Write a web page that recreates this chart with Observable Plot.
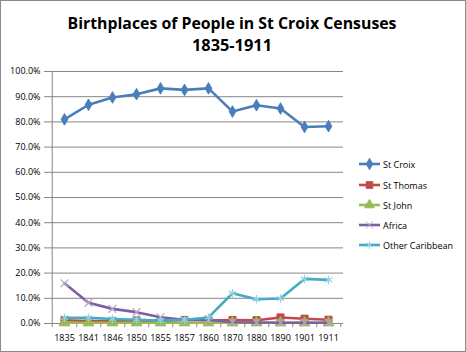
<!DOCTYPE html>
<html>
<head>
<meta charset="utf-8">
<script src="https://cdn.jsdelivr.net/npm/d3@7"></script>
<script src="https://cdn.jsdelivr.net/npm/@observablehq/plot@0.6"></script>
<style>
  html, body { margin: 0; padding: 0; background: #fff; }
  #wrap { position: relative; width: 466px; height: 352px; overflow: hidden; font-family: "Open Sans", sans-serif; }
  #border { position: absolute; left: 0; top: 0; width: 466px; height: 352px; box-sizing: border-box; border: 1px solid #8a8a8a; pointer-events: none; }
  #chart { position: absolute; left: 0; top: 0; }
  #title { position: absolute; left: 0; top: 0; }
  #legend { position: absolute; left: 358px; top: 0; font-size: 9px; color: #000; }
  .row { position: absolute; left: 0; height: 12px; display: flex; align-items: center; white-space: nowrap; }
  .row svg { margin-right: 2px; }
</style>
</head>
<body>
<div id="wrap">
  <div id="chart"></div>
  <svg id="title" width="466" height="60">
    <text x="232" y="28.5" text-anchor="middle" font-family="Open Sans" font-weight="bold" font-size="16" textLength="329" lengthAdjust="spacingAndGlyphs">Birthplaces of People in St Croix Censuses</text>
    <text x="232" y="50.5" text-anchor="middle" font-family="Open Sans" font-weight="bold" font-size="16" textLength="80" lengthAdjust="spacingAndGlyphs">1835-1911</text>
  </svg>
  <div id="legend"></div>
  <div id="border"></div>
</div>
<script>
const years = ["1835","1841","1846","1850","1855","1857","1860","1870","1880","1890","1901","1911"];
const seriesNames = ["St Croix","St Thomas","St John","Africa","Other Caribbean"];
const stCroix    = [81.0, 86.8, 89.7, 91.0, 93.3, 92.7, 93.3, 84.1, 86.6, 85.3, 78.0, 78.3];
const stThomas   = [1.3, 1.0, 1.0, 1.2, 0.9, 1.4, 1.2, 1.4, 1.3, 2.4, 1.9, 1.5];
const stJohn     = [0.3, 0.3, 0.3, 0.3, 0.3, 0.3, 0.3, 0.3, 0.3, 0.3, 0.3, 0.3];
const africa     = [16.0, 8.2, 5.8, 4.5, 2.5, 1.5, 1.5, 0.5, 0.4, 0.3, 0.3, 0.3];
const otherCarib = [2.3, 2.3, 1.8, 1.5, 1.2, 1.5, 2.4, 12.0, 9.6, 9.9, 17.7, 17.3];
const yTicks = [0,10,20,30,40,50,60,70,80,90,100];

const seriesValues = [stCroix, stThomas, stJohn, africa, otherCarib];
const colors  = ["#4A7EBB", "#BE4B48", "#98B954", "#7D60A0", "#46AAC5"];
const markerStroke = ["#4A7EBB", "#BE4B48", "#98B954", "#B9A7D0", "#8FD3E6"];
const symbols = ["diamond", "square", "triangle", "times", "asterisk"];
const radii   = [3.5, 4.0, 4.0, 3.6, 4.0];
const filled  = [true, true, true, false, false];

const W = 466, H = 352, mL = 48, mR = 123, mT = 71, mB = 29;
const half = (W - mL - mR) / years.length / 2;

const marks = [
  Plot.gridY(yTicks, {stroke: "#868686", strokeOpacity: 1, strokeWidth: 1}),
  Plot.axisY(yTicks, {tickFormat: d => d.toFixed(1) + "%", tickSize: 4, tickPadding: 4, stroke: "#868686", strokeOpacity: 1, fontSize: 9, label: null}),
  Plot.axisX(years, {tickSize: 0, tickPadding: 11, fontSize: 9, label: null}),
  Plot.ruleX([years[0]], {dx: -half, y1: 0, y2: 100, stroke: "#868686"}),
  Plot.ruleY([0], {stroke: "#868686"}),
  Plot.ruleX(years, {dx: half, y1: 0, y2: -1.6, stroke: "#868686"}),
  Plot.ruleX([years[0]], {dx: -half, y1: 0, y2: -1.6, stroke: "#868686"})
];

seriesNames.forEach((name, i) => {
  const data = years.map((yr, j) => ({year: yr, value: seriesValues[i][j], series: name}));
  marks.push(Plot.line(data, {x: "year", y: "value", stroke: colors[i], strokeWidth: 2.6, curve: "linear"}));
  marks.push(Plot.dot(data, {
    x: "year", y: "value", symbol: symbols[i], r: radii[i],
    fill: filled[i] ? colors[i] : "none",
    stroke: markerStroke[i], strokeWidth: filled[i] ? 1 : 1.2
  }));
});

const chart = Plot.plot({
  width: W, height: H,
  marginLeft: mL, marginRight: mR, marginTop: mT, marginBottom: mB,
  x: {type: "point", domain: years, padding: 0.5, label: null},
  y: {domain: [0, 100], label: null},
  style: {fontFamily: "Open Sans", fontSize: "9px", color: "#000", background: "transparent"},
  marks
});
document.getElementById("chart").appendChild(chart);

// legend
const legend = document.getElementById("legend");
const rowY = [164, 185, 205, 225, 245];
const symPaths = {
  diamond: d3.symbol(d3.symbolDiamond, 36)(),
  square: d3.symbol(d3.symbolSquare, 44)(),
  triangle: d3.symbol(d3.symbolTriangle, 40)(),
  times: d3.symbol(d3.symbolTimes, 38)(),
  asterisk: d3.symbol(d3.symbolAsterisk, 46)()
};
seriesNames.forEach((name, i) => {
  const row = document.createElement("div");
  row.className = "row";
  row.style.top = (rowY[i] - 6) + "px";
  row.innerHTML =
    `<svg width="23" height="12"><line x1="1" x2="22" y1="6" y2="6" stroke="${colors[i]}" stroke-width="2.6"/>` +
    `<path transform="translate(11.5,6)" d="${symPaths[symbols[i]]}" fill="${filled[i] ? colors[i] : "none"}" stroke="${markerStroke[i]}" stroke-width="1"/></svg>` +
    `<span>${name}</span>`;
  legend.appendChild(row);
});
</script>
</body>
</html>
